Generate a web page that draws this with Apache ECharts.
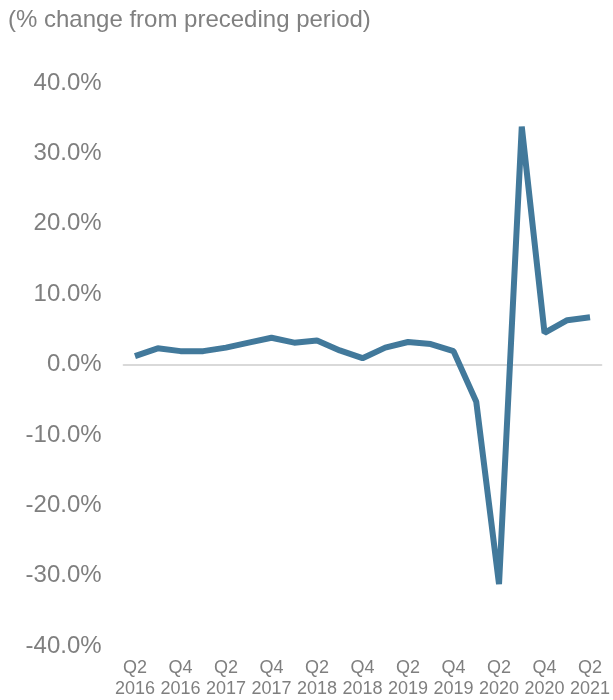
<!DOCTYPE html>
<html>
<head>
<meta charset="utf-8">
<script src="https://cdn.jsdelivr.net/npm/echarts@6/dist/echarts.min.js"></script>
<style>
  html, body { margin: 0; padding: 0; background: #fff; }
  #chart { width: 613px; height: 700px; }
</style>
</head>
<body>
<div id="chart"></div>
<script>
// Quarterly real GDP change, Q2 2016 – Q2 2021
const quarters = [
  'Q2\n2016', 'Q3\n2016', 'Q4\n2016',
  'Q1\n2017', 'Q2\n2017', 'Q3\n2017', 'Q4\n2017',
  'Q1\n2018', 'Q2\n2018', 'Q3\n2018', 'Q4\n2018',
  'Q1\n2019', 'Q2\n2019', 'Q3\n2019', 'Q4\n2019',
  'Q1\n2020', 'Q2\n2020', 'Q3\n2020', 'Q4\n2020',
  'Q1\n2021', 'Q2\n2021'
];
const changePct = [
  1.2, 2.3, 1.9,
  1.9, 2.4, 3.1, 3.8,
  3.1, 3.4, 2.0, 0.9,
  2.4, 3.2, 2.9, 1.9,
  -5.3, -31.2, 33.8, 4.5,
  6.3, 6.7
];
const unitNote = '(% change from preceding period)';

const chart = echarts.init(document.getElementById('chart'));
const font = 'Liberation Sans, Arial, sans-serif';
chart.setOption({
  animation: false,
  title: {
    text: unitNote,
    left: 8,
    top: 8,
    padding: 0,
    textStyle: { fontFamily: font, fontSize: 24, fontWeight: 'normal', color: '#808080' }
  },
  grid: { left: 123.6, right: 9.6, top: 83, bottom: 54, containLabel: false },
  xAxis: {
    type: 'category',
    data: quarters,
    boundaryGap: true,
    axisLine: { onZero: true, lineStyle: { color: '#d9d9d9', width: 2 } },
    axisTick: { show: false },
    axisLabel: {
      interval: 1,
      fontFamily: font,
      fontSize: 18,
      color: '#7f7f7f',
      lineHeight: 21,
      margin: 12,
      showMaxLabel: true
    }
  },
  yAxis: {
    type: 'value',
    min: -40,
    max: 40,
    interval: 10,
    splitLine: { show: false },
    axisLine: { show: false },
    axisTick: { show: false },
    axisLabel: {
      fontFamily: font,
      fontSize: 24,
      color: '#7f7f7f',
      margin: 22,
      formatter: v => v.toFixed(1) + '%'
    }
  },
  series: [{
    type: 'line',
    data: changePct,
    symbol: 'none',
    lineStyle: { color: '#42799b', width: 6 },
    itemStyle: { color: '#42799b' }
  }]
});
</script>
</body>
</html>
